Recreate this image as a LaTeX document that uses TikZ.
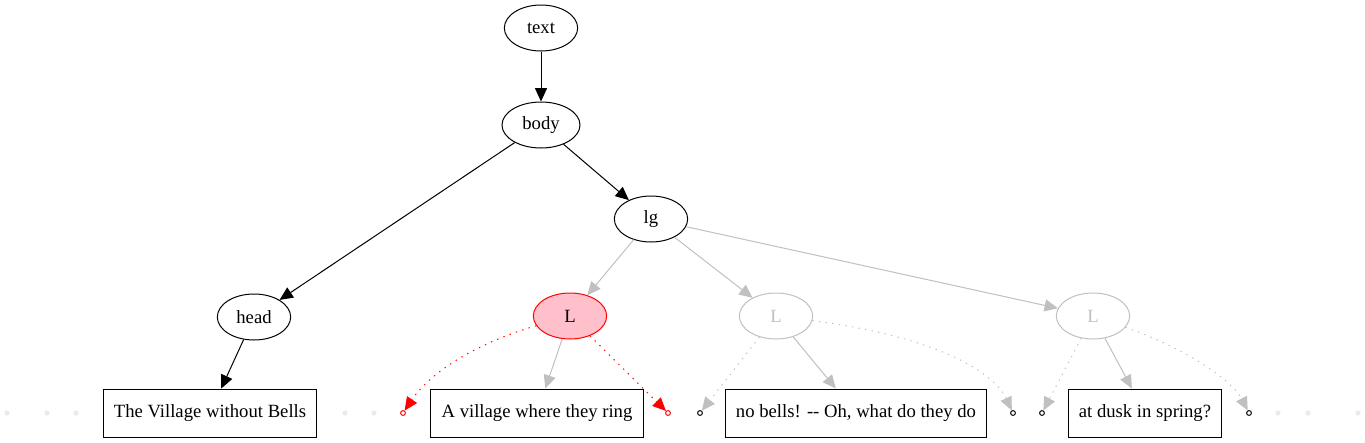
\documentclass[tikz,border=0pt]{standalone}
\usepackage{fontspec}
\setmainfont{Liberation Serif}
\usepackage{xcolor}
\usepackage{tikz}
\usetikzlibrary{arrows.meta,positioning,shapes,shapes.geometric}

\definecolor{faded}{HTML}{C0C0C0}
\definecolor{hitfill}{HTML}{FFC0CB}
\definecolor{stubgray}{HTML}{EBEBEB}

\begin{document}
\begin{tikzpicture}[x=0.75pt, y=-0.75pt, line width=0.75pt,
    font=\fontsize{14}{16}\selectfont,
    tag/.style={ellipse, draw, inner sep=0pt, minimum width=55pt, minimum height=34.5pt},
    seg/.style={rectangle, draw, inner sep=0pt, inner xsep=8pt, minimum height=36pt},
    ghost/.style={tag, draw=faded, text=faded},
    hit/.style={tag, draw=red, fill=hitfill},
    port/.style={circle, draw, inner sep=0pt, minimum size=3.6pt},
    stub/.style={circle, fill=stubgray, inner sep=0pt, minimum size=4pt},
    arr/.style={-{Triangle[length=10pt,width=9pt]}},
    dots/.style={dash pattern=on 1pt off 4pt}]
    \useasboundingbox (0,0) rectangle (1365,443);

    \node (text) [tag] at (541,28) {text};
    \node (body) [tag, minimum width=58.5pt] at (541,125) {body};
    \node (lg) [tag] at (651,219) {lg};
    \node (head) [tag] at (254,317) {head};
    \node (lred) [hit] at (570,316) {L};
    \node (lmid) [ghost] at (776,316) {L};
    \node (lend) [ghost] at (1093,316) {L};

    \node (title) [seg] at (210,413) {The Village without Bells};
    \node (line1) [seg] at (537,413) {A village where they ring};
    \node (line2) [seg] at (856,413) {no bells! -{}- Oh, what do they do};
    \node (line3) [seg] at (1145,413) {at dusk in spring?};

    \node (p1) [port, draw=red] at (403,413) {};
    \node (p2) [port, draw=red] at (668,413) {};
    \node (p3) [port] at (700,413) {};
    \node (p4) [port] at (1013,413) {};
    \node (p5) [port] at (1042,413) {};
    \node (p6) [port] at (1249,413) {};

    \node (s1) [stub] at (7,413) {};
    \node (s2) [stub] at (47,413) {};
    \node (s3) [stub] at (76,413) {};
    \node (s4) [stub] at (345,413) {};
    \node (s5) [stub] at (374,413) {};
    \node (s6) [stub] at (1278,413) {};
    \node (s7) [stub] at (1308,413) {};
    \node (s8) [stub] at (1358,413) {};

    \draw [arr] (text) -- (body);
    \draw [arr] (body) -- (lg);
    \draw [arr] (body) -- (head);
    \draw [arr] (head) -- (title);

    \draw [arr, faded] (lg) -- (lred);
    \draw [arr, faded] (lg) -- (lmid);
    \draw [arr, faded] (lg) -- (lend);
    \draw [arr, faded] (lred) -- (line1);
    \draw [arr, faded] (lmid) -- (line2);
    \draw [arr, faded] (lend) -- (line3);

    \draw [arr, red, dots] (lred) .. controls (480,342) and (432,370) .. (p1);
    \draw [arr, red, dots] (lred) -- (p2);
    \draw [arr, faded, dots] (lmid) -- (p3);
    \draw [arr, faded, dots] (lmid) .. controls (925,335) and (992,368) .. (p4);
    \draw [arr, faded, dots] (lend) -- (p5);
    \draw [arr, faded, dots] (lend) .. controls (1185,348) and (1232,380) .. (p6);
\end{tikzpicture}
\end{document}
